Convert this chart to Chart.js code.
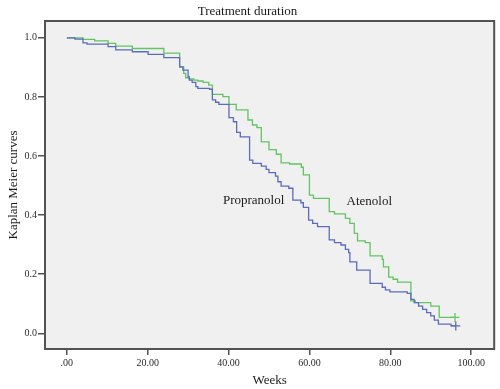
<!DOCTYPE html>
<html>
<head>
<meta charset="utf-8">
<title>Treatment duration</title>
<script src="https://cdn.jsdelivr.net/npm/chart.js@4"></script>
<style>
    html, body { margin: 0; padding: 0; background: #ffffff; }
</style>
</head>
<body>
<canvas id="kmChart" width="500" height="389"></canvas>
<script>
// Kaplan Meier steps (weeks, survival after the step)
const atenololWeeks = [0, 4.0, 6.9, 10.2, 12.1, 16.2, 24.0,
    27.9, 28.9, 29.4, 30.2, 31.4, 32.4, 33.7, 35.1, 36.0,
    38.6, 40.1, 41.9, 44.8, 45.9, 47.0, 48.1, 50.0, 51.8, 53.0,
    55.1, 58.0, 58.5, 60.0, 61.0, 64.9, 66.2, 68.9, 70.0, 71.1,
    71.9, 73.8, 75.0, 78.0, 78.3, 79.6, 80.7, 81.8, 85.1, 86.2,
    90.0, 92.1, 96.0];
const atenololSurvival = [1.0, 0.995, 0.99, 0.981, 0.972, 0.964, 0.948,
    0.902, 0.88, 0.865, 0.861, 0.857, 0.854, 0.849, 0.84, 0.809,
    0.801, 0.775, 0.756, 0.722, 0.705, 0.696, 0.648, 0.622, 0.606, 0.577,
    0.573, 0.562, 0.536, 0.468, 0.457, 0.412, 0.404, 0.389, 0.372, 0.338,
    0.313, 0.307, 0.262, 0.25, 0.225, 0.19, 0.183, 0.173, 0.11, 0.104,
    0.092, 0.054, 0.054];

const propranololWeeks = [0, 2.0, 4.0, 5.0, 10.2, 12.1, 16.2, 20.1, 24.0,
    27.9, 28.7, 30.0, 30.3, 31.0, 31.9, 32.4, 35.3, 36.0, 36.8,
    37.6, 40.1, 41.2, 42.0, 42.9, 45.2, 46.0, 48.1, 49.3, 50.0,
    51.6, 52.2, 53.0, 54.9, 55.9, 57.9, 58.5, 59.8, 60.8, 62.0,
    64.9, 66.2, 67.8, 68.9, 69.7, 70.0, 71.7, 75.0, 78.0, 78.8,
    79.9, 84.2, 85.1, 85.9, 87.0, 88.0, 89.0, 90.0, 90.9, 91.9,
    95.0, 96.2];
const propranololSurvival = [1.0, 0.996, 0.983, 0.979, 0.97, 0.959, 0.953, 0.944, 0.933,
    0.902, 0.891, 0.868, 0.857, 0.849, 0.835, 0.829, 0.826, 0.79, 0.782,
    0.775, 0.73, 0.716, 0.68, 0.665, 0.586, 0.575, 0.566, 0.555, 0.544,
    0.532, 0.513, 0.498, 0.491, 0.451, 0.442, 0.426, 0.383, 0.372, 0.361,
    0.316, 0.307, 0.299, 0.284, 0.273, 0.242, 0.214, 0.169, 0.156, 0.147,
    0.14, 0.135, 0.115, 0.104, 0.092, 0.081, 0.07, 0.059, 0.045, 0.031,
    0.025, 0.025];

const xTickValues = [0, 20, 40, 60, 80, 100];
const xTickLabels = ['.00', '20.00', '40.00', '60.00', '80.00', '100.00'];
const yTickValues = [0, 0.2, 0.4, 0.6, 0.8, 1.0];
const yTickLabels = ['0.0', '0.2', '0.4', '0.6', '0.8', '1.0'];

const SERIF = "'Liberation Serif', 'DejaVu Serif', serif";

function toPoints(weeks, survival) {
    return weeks.map((w, i) => ({ x: w, y: survival[i] }));
}

// only the last point carries the censor "+"
function censorRadius(weeks) {
    return weeks.map((w, i) => (i === weeks.length - 1 ? 4.5 : 0));
}

// grey plot area and the dark frame round it
const plotFrame = {
    id: 'plotFrame',
    beforeDraw: function(chart) {
        const ctx = chart.ctx;
        const a = chart.chartArea;
        ctx.save();
        ctx.fillStyle = '#f0f0f0';
        ctx.fillRect(a.left, a.top, a.right - a.left, a.bottom - a.top);
        ctx.restore();
    },
    afterDraw: function(chart) {
        const ctx = chart.ctx;
        const a = chart.chartArea;
        ctx.save();
        ctx.strokeStyle = '#525252';
        ctx.lineWidth = 2;
        ctx.strokeRect(a.left, a.top, a.right - a.left, a.bottom - a.top);
        ctx.restore();
    }
};

// curve names written next to the lines
const curveLabels = {
    id: 'curveLabels',
    afterDatasetsDraw: function(chart, args, options) {
        const ctx = chart.ctx;
        const xs = chart.scales['x'];
        const ys = chart.scales['y'];
        ctx.save();
        ctx.fillStyle = '#1a1a1a';
        ctx.font = '13px ' + SERIF;
        ctx.textAlign = 'center';
        ctx.textBaseline = 'middle';
        for (let item of options.items) {
            ctx.fillText(item.text, xs.getPixelForValue(item.x), ys.getPixelForValue(item.y));
        }
        ctx.restore();
    }
};

const config = {
    type: 'line',
    data: {
        datasets: [{
            label: 'Propranolol',
            data: toPoints(propranololWeeks, propranololSurvival),
            borderColor: '#5b6bbd',
            backgroundColor: '#5b6bbd',
            borderWidth: 1.3,
            stepped: 'before',
            fill: false,
            pointStyle: 'cross',
            pointRadius: censorRadius(propranololWeeks),
            pointBorderWidth: 1.3,
            pointHoverRadius: 0,
        }, {
            label: 'Atenolol',
            data: toPoints(atenololWeeks, atenololSurvival),
            borderColor: '#62c462',
            backgroundColor: '#62c462',
            borderWidth: 1.3,
            stepped: 'before',
            fill: false,
            pointStyle: 'cross',
            pointRadius: censorRadius(atenololWeeks),
            pointBorderWidth: 1.3,
            pointHoverRadius: 0,
        }]
    },
    options: {
        responsive: false,
        animation: false,
        layout: {
            padding: { left: 0, top: 0, right: 5, bottom: 0 }
        },
        scales: {
            x: {
                type: 'linear',
                min: -5.4,
                max: 105.7,
                afterFit: function(scale) { scale.height = 40; },
                afterBuildTicks: function(scale) {
                    scale.ticks = xTickValues.map(v => ({ value: v }));
                },
                ticks: {
                    autoSkip: false,
                    maxRotation: 0,
                    padding: 2,
                    color: '#2b2b2b',
                    font: { family: SERIF, size: 10 },
                    callback: function(value) {
                        return xTickLabels[xTickValues.indexOf(value)];
                    }
                },
                grid: {
                    drawOnChartArea: false,
                    tickLength: 6,
                    color: '#525252',
                    lineWidth: 1.5,
                },
                border: { display: false },
                title: {
                    display: true,
                    text: 'Weeks',
                    color: '#1a1a1a',
                    font: { family: SERIF, size: 13 },
                    padding: { top: 0, bottom: 1 }
                }
            },
            y: {
                type: 'linear',
                min: -0.053,
                max: 1.057,
                afterFit: function(scale) { scale.width = 45; },
                afterBuildTicks: function(scale) {
                    scale.ticks = yTickValues.map(v => ({ value: v }));
                },
                ticks: {
                    padding: 1,
                    color: '#2b2b2b',
                    font: { family: SERIF, size: 10 },
                    callback: function(value) {
                        return yTickLabels[yTickValues.indexOf(value)];
                    }
                },
                grid: {
                    drawOnChartArea: false,
                    tickLength: 7,
                    color: '#525252',
                    lineWidth: 1.5,
                },
                border: { display: false },
                title: {
                    display: true,
                    text: 'Kaplan Meier curves',
                    color: '#1a1a1a',
                    font: { family: SERIF, size: 13 },
                    padding: { top: 6, bottom: 0 }
                }
            }
        },
        plugins: {
            legend: { display: false },
            tooltip: { enabled: false },
            title: {
                display: true,
                text: 'Treatment duration',
                color: '#1a1a1a',
                font: { family: SERIF, size: 13, weight: 'normal' },
                padding: { top: 3.5, bottom: 1.9 }
            },
            curveLabels: {
                items: [
                    { text: 'Propranolol', x: 46.2, y: 0.448 },
                    { text: 'Atenolol', x: 74.8, y: 0.445 }
                ]
            }
        }
    },
    plugins: [plotFrame, curveLabels]
};

const kmChart = new Chart(document.getElementById('kmChart'), config);
</script>
</body>
</html>
